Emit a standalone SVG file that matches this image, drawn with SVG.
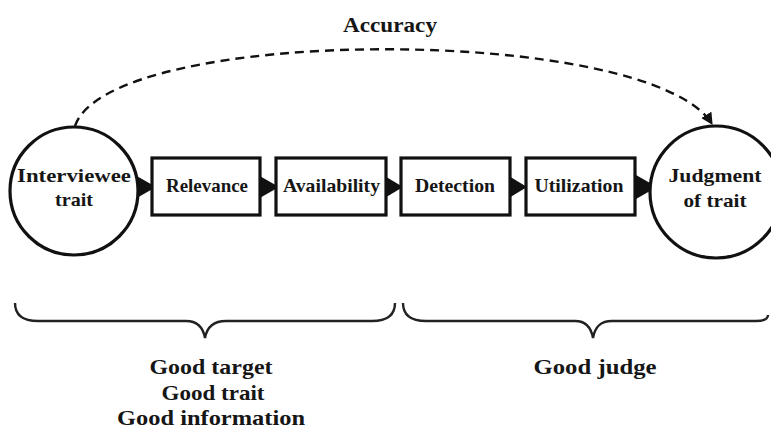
<svg xmlns="http://www.w3.org/2000/svg" width="771" height="429" viewBox="0 0 771 429">
<defs>
<marker id="ah" viewBox="0 0 10 10" refX="9" refY="5" markerWidth="5" markerHeight="5" orient="auto" markerUnits="strokeWidth">
<path d="M0,0 L10,5 L0,10 z" fill="#111"/>
</marker>
<style>
.node{fill:#fff;stroke:#111;stroke-width:3.2}
.lbl{font-family:"Liberation Serif","Times New Roman",serif;font-weight:bold;font-size:19px;fill:#161616;text-anchor:middle}
.big{font-family:"Liberation Serif","Times New Roman",serif;font-weight:bold;font-size:22px;fill:#161616;text-anchor:middle}
.tri{fill:#111;stroke:none}
.brace{fill:none;stroke:#222;stroke-width:2.4}
</style>
</defs>
<rect width="771" height="429" fill="#fff"/>

<g id="connectors">
<path d="M75,126 C110,24 650,24 712,124" fill="none" stroke="#111" stroke-width="2.4" stroke-dasharray="9,6" marker-end="url(#ah)"/>
<polygon class="tri" points="135,175 156,187 135,199"/>
<polygon class="tri" points="258,175 279,187 258,199"/>
<polygon class="tri" points="383,175 403,187 383,199"/>
<polygon class="tri" points="507,175 527,187 507,199"/>
<polygon class="tri" points="636,175 657,187 636,199"/>
</g>

<g id="node-interviewee">
<circle class="node" cx="74" cy="191" r="64"/>
<text class="lbl" x="74" y="182" textLength="114" lengthAdjust="spacingAndGlyphs">Interviewee</text>
<text class="lbl" x="74" y="206" textLength="38" lengthAdjust="spacingAndGlyphs">trait</text>
</g>
<g id="node-relevance">
<rect class="node" x="152" y="158" width="108" height="57" stroke-width="3.5"/>
<text class="lbl" x="207" y="192" textLength="82" lengthAdjust="spacingAndGlyphs">Relevance</text>
</g>
<g id="node-availability">
<rect class="node" x="276" y="158" width="110" height="57" stroke-width="3.5"/>
<text class="lbl" x="331.5" y="192" textLength="97" lengthAdjust="spacingAndGlyphs">Availability</text>
</g>
<g id="node-detection">
<rect class="node" x="401" y="158" width="109" height="57" stroke-width="3.5"/>
<text class="lbl" x="455" y="192" textLength="80" lengthAdjust="spacingAndGlyphs">Detection</text>
</g>
<g id="node-utilization">
<rect class="node" x="526" y="158" width="109" height="57" stroke-width="3.5"/>
<text class="lbl" x="579" y="192" textLength="89" lengthAdjust="spacingAndGlyphs">Utilization</text>
</g>
<g id="node-judgment">
<circle class="node" cx="716" cy="192" r="66"/>
<text class="lbl" x="715" y="182" textLength="93" lengthAdjust="spacingAndGlyphs">Judgment</text>
<text class="lbl" x="715" y="207" textLength="63" lengthAdjust="spacingAndGlyphs">of trait</text>
</g>

<g id="label-accuracy">
<text class="big" x="390" y="32" textLength="94" lengthAdjust="spacingAndGlyphs">Accuracy</text>
</g>

<g id="brace-left">
<path class="brace" d="M15,303 C15,315 22,321 38,321 L186,321 C197,321 203,327 205,338 C207,327 213,321 226,321 L372,321 C388,321 395,315 395,303"/>
<text class="big" x="211" y="374" textLength="123" lengthAdjust="spacingAndGlyphs">Good target</text>
<text class="big" x="213" y="400" textLength="103" lengthAdjust="spacingAndGlyphs">Good trait</text>
<text class="big" x="211" y="425" textLength="188" lengthAdjust="spacingAndGlyphs">Good information</text>
</g>
<g id="brace-right">
<path class="brace" d="M403,303 C403,315 410,321 426,321 L575,321 C586,321 591,327 593,338 C595,327 600,321 612,321 L756,321 C764,321 768,319 768,315"/>
<text class="big" x="595" y="374" textLength="123" lengthAdjust="spacingAndGlyphs">Good judge</text>
</g>
</svg>
